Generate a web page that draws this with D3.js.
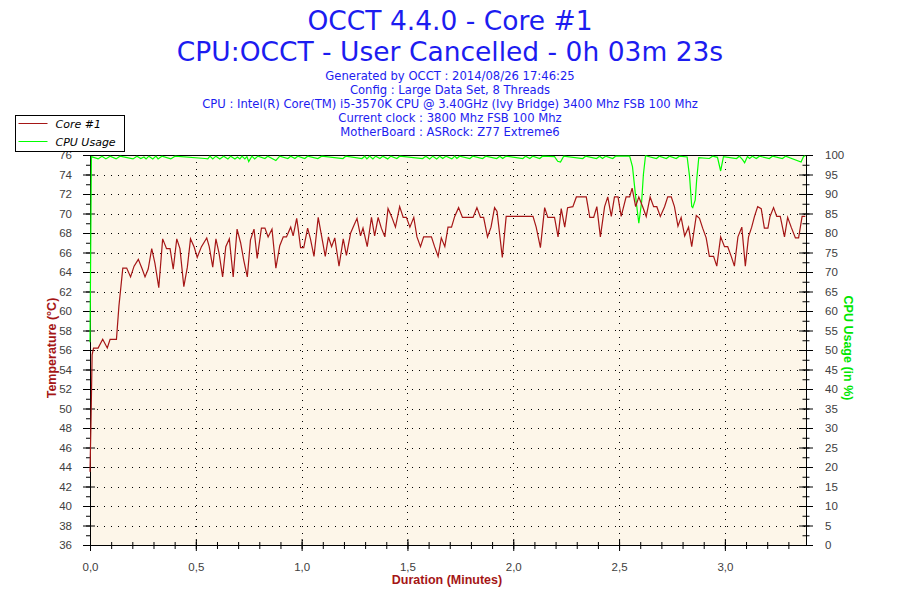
<!DOCTYPE html>
<html>
<head>
<meta charset="utf-8">
<script src="https://cdn.jsdelivr.net/npm/d3@7"></script>
<style>
  body { margin: 0; background: #fff; }
  .title { font-family: "DejaVu Sans", Verdana, sans-serif; fill: #1c1cf0; }
  .tick text { font-family: "Liberation Sans", Arial, sans-serif; font-size: 11.5px; fill: #404040; }
  .axis path, .axis line { stroke: #000; }
</style>
</head>
<body>
<div class="js-chart"></div>
<script>
// Core #1 temperature, time in seconds, value in degrees C
var tempSec = [0, 0.3, 0.6, 1.0, 2.3, 3.6, 4.9, 5.7, 7.5, 8.2, 9.3, 10.4, 11.5, 12.5, 13.7, 14.8, 15.6, 16.5,
  17.5, 18.4, 19.5, 20.6, 21.7, 22.7, 23.6, 24.6, 25.5, 26.6, 27.6, 28.5, 29.5, 30.4, 31.6, 33.1, 33.8, 34.8,
  35.7, 36.6, 37.6, 38.5, 39.5, 40.6, 41.7, 42.7, 43.6, 44.6, 45.5, 46.5, 47.4, 48.6, 49.6, 50.5, 51.6, 52.7,
  53.8, 54.8, 55.7, 56.9, 57.6, 58.6, 59.0, 59.7, 60.6, 61.7, 62.5, 63.5, 64.7, 65.6, 66.7, 67.6, 68.5, 69.4,
  70.6, 71.8, 72.7, 73.9, 74.6, 75.7, 76.7, 77.4, 78.6, 79.8, 80.7, 81.7, 82.6, 83.6, 84.5, 85.6, 86.6, 87.8,
  88.8, 89.7, 90.7, 91.8, 92.7, 93.7, 94.6, 96.8, 97.7, 98.7, 99.6, 100.6, 101.5, 102.5, 103.4, 104.5, 105.6,
  108.6, 109.7, 110.7, 111.6, 112.7, 113.7, 114.7, 115.4, 116.2, 116.9, 118.0, 125.6, 126.5, 127.7, 128.9,
  129.8, 131.7, 132.7, 133.6, 134.6, 135.4, 136.9, 137.9, 140.7, 141.7, 142.8, 143.7, 144.7, 145.9, 146.8,
  147.8, 148.7, 149.7, 150.6, 152.0, 153.0, 153.7, 154.7, 155.6, 156.7, 157.7, 158.8, 159.8, 160.7, 161.7,
  162.9, 163.8, 164.8, 165.7, 166.7, 167.6, 168.6, 169.7, 170.6, 171.9, 172.8, 173.7, 174.7, 175.6, 176.8,
  177.7, 178.8, 179.9, 180.8, 181.8, 182.7, 183.7, 184.8, 185.8, 186.7, 187.6, 188.4, 189.3, 190.3, 191.2,
  192.2, 192.8, 193.8, 194.7, 195.7, 196.9, 197.8, 198.8, 200.0, 200.9, 201.9, 202.8];
var tempVal = [43.5, 49, 55.5, 56.2, 56.2, 57.1, 56.2, 57.1, 57.1, 60.5, 64.4, 64.4, 63.5, 64.6, 65.3, 64.3, 63.5, 64.3,
  66.4, 64.9, 62.4, 67.4, 66.4, 66.4, 64.3, 67.4, 66.4, 62.5, 64.5, 67.4, 66.6, 65.5, 66.6, 67.5, 66.6, 64.5,
  67.4, 65.9, 63.5, 66.6, 67.4, 63.5, 68.4, 67, 65.2, 63.5, 67.3, 68.4, 65.4, 68.5, 68.5, 67.6, 68.4, 64.4,
  66.7, 67.6, 67.6, 68.6, 67.7, 69.5, 68.5, 66.5, 66.5, 68.5, 67.4, 65.6, 69.6, 67.8, 65.6, 67.6, 66.6, 67.5,
  64.6, 67.4, 65.7, 68, 68.6, 69.5, 67.7, 68.5, 66.6, 69.6, 67.7, 69.6, 68.5, 67.6, 70.5, 69.6, 68.6, 70.7,
  69.6, 69.6, 68.6, 69.6, 67.6, 66.6, 67.6, 67.6, 66.6, 65.6, 67.5, 66.6, 68.6, 68.6, 69.7, 70.6, 69.6,
  69.6, 70.6, 69.6, 69.6, 67.6, 68.6, 70.6, 70.2, 67.7, 65.5, 69.7, 69.7, 68.6, 66.5, 70.6,
  69.6, 69.6, 67.6, 70.5, 68.6, 70.6, 70.7, 71.7, 71.7, 69.6, 69.6, 70.7, 67.6, 70.7, 71.7,
  69.7, 71.7, 71.7, 69.7, 71.7, 71.7, 72.6, 70.7, 71.7, 70.7, 69.7, 71.7, 70.7, 70.7, 69.7,
  70.7, 71.7, 71.7, 70.7, 68.7, 69.6, 67.7, 68.6, 66.6, 69.8, 69.5, 68.5, 67.5, 65.6, 65.6,
  64.6, 67.6, 66.6, 66.6, 65.6, 64.6, 67.6, 68.6, 64.6, 67.6, 68.6, 69.7, 70.7, 70.5, 68.5,
  68.5, 69.7, 70.6, 69.7, 69.7, 67.6, 69.6, 68.6, 67.5, 67.5, 69.7, 69.7];

// CPU usage, time in seconds, value in percent
var cpuSec = [0, 0.4, 2.3, 3.4, 4.5, 5.7, 7.4, 8.5, 12.2, 13.3, 14.4, 15.3, 15.9, 16.7, 17.8, 18.7, 19.3, 20.4,
  22.9, 24.1, 32.6, 33.4, 34.0, 34.8, 35.7, 36.8, 37.9, 39.1, 39.9, 41.1, 41.8, 42.5, 43.1, 43.9, 44.5, 45.0,
  45.9, 46.7, 47.6, 49.6, 50.4, 52.7, 53.8, 56.1, 56.9, 58.1, 58.9, 60.9, 61.7, 64.6, 65.7, 71.7, 72.5, 77.1,
  77.9, 78.5, 79.3, 80.2, 81.0, 82.2, 83.0, 84.4, 85.3, 87.0, 87.8, 94.3, 95.2, 96.3, 97.2, 98.3, 99.2, 100.0,
  100.9, 102.6, 103.4, 104.0, 104.8, 107.7, 108.5, 111.3, 112.2, 115.3, 116.2, 117.0, 117.9, 122.7, 123.5,
  124.7, 125.5, 127.5, 128.3, 131.7, 132.6, 133.4, 134.3, 139.7, 140.5, 143.6, 144.5, 145.3, 146.2, 148.2,
  149.0, 153.0, 153.8, 154.8, 155.6, 156.4, 156.9, 157.5, 160.6, 161.4, 163.4, 164.3, 166.2, 167.1, 169.3,
  170.0, 170.6, 170.9, 171.6, 172.0, 172.6, 175.6, 176.5, 177.9, 178.8, 179.6, 183.3, 184.1, 185.0, 185.6,
  186.4, 187.0, 187.8, 188.9, 189.8, 192.6, 193.5, 196.3, 197.2, 201.6, 202.3, 202.8];
var cpuVal = [52, 99.6, 99.0, 99.7, 99.0, 99.7, 99.0, 99.7, 99.0, 99.7, 99.1, 99.5, 99.0, 99.7, 99.0, 99.7, 99.0, 99.7,
  99.0, 99.7, 99.1, 99.0, 99.7, 99.0, 99.7, 99.0, 99.7, 99.0, 99.7, 99.0, 99.5, 99.0, 99.7, 99.0, 99.6, 98.3,
  99.7, 99.0, 99.7, 99.1, 99.7, 98.6, 99.7, 99.1, 99.7, 99.1, 99.7, 99.1, 99.7, 99.1, 99.7, 99.1, 99.7, 99.1,
  99.7, 99.0, 99.7, 99.0, 99.7, 99.1, 99.7, 99.0, 99.7, 99.1, 99.7, 99.1, 99.7, 99.0, 99.7, 99.0, 99.7, 99.1,
  99.7, 99.0, 99.7, 99.1, 99.7, 99.1, 99.7, 99.1, 99.7, 99.1, 99.7, 99.1, 99.7, 99.1, 99.7,
  99.1, 99.7, 99.1, 99.7, 99.6, 98.4, 98.2, 99.7, 99.1, 99.7, 99.1, 99.7, 99.1, 99.7, 99.1,
  99.7, 99.7, 97, 88.5, 82.5, 88, 95, 99.8, 99.1, 99.7, 99.1, 99.7, 99.1, 99.7, 99.5,
  94.4, 86.8, 86.5, 88.5, 93.6, 99.3, 99.1, 99.7, 99.4, 95.9, 99.6, 99.1, 99.7, 98.8, 98.0,
  99.6, 99.1, 99.7, 99.1, 99.7, 99.1, 99.7, 99.1, 99.7, 98.2, 99.6, 99.8];

var tempTicks = [36, 38, 40, 42, 44, 46, 48, 50, 52, 54, 56, 58, 60, 62, 64, 66, 68, 70, 72, 74, 76];
var cpuTicks = [0, 5, 10, 15, 20, 25, 30, 35, 40, 45, 50, 55, 60, 65, 70, 75, 80, 85, 90, 95, 100];
var minuteTicks = [0, 0.5, 1.0, 1.5, 2.0, 2.5, 3.0];

var titleLines = ['OCCT 4.4.0 - Core #1', 'CPU:OCCT - User Cancelled - 0h 03m 23s'];
var infoLines = [
  'Generated by OCCT : 2014/08/26 17:46:25',
  'Config : Large Data Set, 8 Threads',
  'CPU : Intel(R) Core(TM) i5-3570K CPU @ 3.40GHz (Ivy Bridge) 3400 Mhz FSB 100 Mhz',
  'Current clock : 3800 Mhz FSB 100 Mhz',
  'MotherBoard : ASRock: Z77 Extreme6'
];
var seriesNames = ['Core #1', 'CPU Usage'];

;(function() {
  'use strict';

  var totalW = 900,
      totalH = 600;
  var margin = {top: 155, right: 94, bottom: 55, left: 90};
  var chartW = totalW - margin.left - margin.right,
      chartH = totalH - margin.top - margin.bottom;

  var tempColor = '#a51616',
      cpuColor = '#00ff00';

  var svg = d3.select('.js-chart').append('svg')
              .attr('width', totalW)
              .attr('height', totalH);

  // Titles
  svg.selectAll('.title-big')
      .data(titleLines)
    .enter().append('text')
      .classed('title title-big', true)
      .attr('x', 450)
      .attr('y', function(d, i) { return 30 + i * 31; })
      .attr('text-anchor', 'middle')
      .style('font-size', '26.5px')
      .text(function(d) { return d; });

  svg.selectAll('.title-small')
      .data(infoLines)
    .enter().append('text')
      .classed('title title-small', true)
      .attr('x', 450)
      .attr('y', function(d, i) { return 80 + i * 14; })
      .attr('text-anchor', 'middle')
      .style('font-size', '11.6px')
      .text(function(d) { return d; });

  var xScale = d3.scaleLinear().domain([0, 203]).range([0, chartW]);
  var xMin = d3.scaleLinear().domain([0, 203 / 60]).range([0, chartW]);
  var yTemp = d3.scaleLinear().domain([36, 76]).range([chartH, 0]);
  var yCpu = d3.scaleLinear().domain([0, 100]).range([chartH, 0]);

  var g = svg.append('g')
              .attr('transform', 'translate(' + margin.left + ',' + margin.top + ')');

  g.append('rect')
      .attr('width', chartW)
      .attr('height', chartH)
      .style('fill', '#fdf6e9');

  // Dotted grid
  g.selectAll('.grid-h')
      .data(tempTicks.filter(function(d) { return d > 36 && d < 76; }))
    .enter().append('line')
      .attr('x1', 0)
      .attr('x2', chartW)
      .attr('y1', function(d) { return Math.round(yTemp(d)) + 0.5; })
      .attr('y2', function(d) { return Math.round(yTemp(d)) + 0.5; })
      .style('stroke', '#000')
      .style('stroke-dasharray', '1,6');

  g.selectAll('.grid-v')
      .data(minuteTicks.filter(function(d) { return d > 0; }))
    .enter().append('line')
      .attr('x1', function(d) { return Math.round(xMin(d)) + 0.5; })
      .attr('x2', function(d) { return Math.round(xMin(d)) + 0.5; })
      .attr('y1', 0)
      .attr('y2', chartH)
      .style('stroke', '#000')
      .style('stroke-dasharray', '1,6');

  // Axes: minor ticks first, then the labelled major ones
  var minorTemp = d3.range(36, 77, 1);
  var minorCpu = d3.range(0, 101, 2.5);
  var minorMin = d3.range(0, 34).map(function(i) { return i / 10; });

  function crossTicks(axisG, a, b, attr) {
    axisG.selectAll('.tick line').attr(attr + '1', a).attr(attr + '2', b);
  }

  var leftMinor = g.append('g').classed('axis', true)
      .call(d3.axisLeft(yTemp).tickValues(minorTemp).tickFormat('').tickSizeOuter(0));
  crossTicks(leftMinor, -4, 0, 'x');
  var leftMajor = g.append('g').classed('axis', true)
      .call(d3.axisLeft(yTemp).tickValues(tempTicks).tickSizeOuter(0).tickPadding(12));
  crossTicks(leftMajor, -7, 5, 'x');

  var rightMinor = g.append('g').classed('axis', true)
      .attr('transform', 'translate(' + chartW + ',0)')
      .call(d3.axisRight(yCpu).tickValues(minorCpu).tickFormat('').tickSizeOuter(0));
  crossTicks(rightMinor, -3.5, 3.5, 'x');
  var rightMajor = g.append('g').classed('axis', true)
      .attr('transform', 'translate(' + chartW + ',0)')
      .call(d3.axisRight(yCpu).tickValues(cpuTicks).tickSizeOuter(0).tickPadding(13));
  crossTicks(rightMajor, -7, 7, 'x');

  var bottomMinor = g.append('g').classed('axis', true)
      .attr('transform', 'translate(0,' + chartH + ')')
      .call(d3.axisBottom(xMin).tickValues(minorMin).tickFormat('').tickSizeOuter(0));
  crossTicks(bottomMinor, -3, 4, 'y');
  var bottomMajor = g.append('g').classed('axis', true)
      .attr('transform', 'translate(0,' + chartH + ')')
      .call(d3.axisBottom(xMin).tickValues(minuteTicks).tickSizeOuter(0).tickPadding(12)
              .tickFormat(function(d) { return d3.format('.1f')(d).replace('.', ','); }));
  crossTicks(bottomMajor, -6, 6, 'y');

  // Top border
  g.append('line')
      .attr('x1', 0).attr('x2', chartW)
      .attr('y1', 0.5).attr('y2', 0.5)
      .style('stroke', '#000');

  // Series
  var cpuLine = d3.line()
      .x(function(d, i) { return xScale(cpuSec[i]); })
      .y(function(d) { return yCpu(d); });
  var tempLine = d3.line()
      .x(function(d, i) { return xScale(tempSec[i]); })
      .y(function(d) { return yTemp(d); });

  g.append('path')
      .datum(cpuVal)
      .attr('d', cpuLine)
      .style('fill', 'none')
      .style('stroke', cpuColor)
      .style('stroke-width', 1.2);

  g.append('path')
      .datum(tempVal)
      .attr('d', tempLine)
      .style('fill', 'none')
      .style('stroke', tempColor)
      .style('stroke-width', 1.2);

  // Axis titles
  var labelFont = '"Liberation Sans", Arial, sans-serif';
  svg.append('text')
      .attr('transform', 'translate(56,348) rotate(-90)')
      .attr('text-anchor', 'middle')
      .style('font-family', labelFont)
      .style('font-weight', 'bold')
      .style('font-size', '12.5px')
      .style('fill', tempColor)
      .text('Temperature (°C)');

  svg.append('text')
      .attr('transform', 'translate(844,348) rotate(90)')
      .attr('text-anchor', 'middle')
      .style('font-family', labelFont)
      .style('font-weight', 'bold')
      .style('font-size', '12.5px')
      .style('fill', '#00e600')
      .text('CPU Usage (in %)');

  svg.append('text')
      .attr('x', 447)
      .attr('y', 584)
      .attr('text-anchor', 'middle')
      .style('font-family', labelFont)
      .style('font-weight', 'bold')
      .style('font-size', '12.5px')
      .style('fill', tempColor)
      .text('Duration (Minutes)');

  // Legend
  var legend = svg.append('g').attr('transform', 'translate(15.5,115.5)');
  legend.append('rect')
      .attr('width', 109)
      .attr('height', 36)
      .style('fill', '#fff')
      .style('stroke', '#000');
  legend.selectAll('.leg-line')
      .data(seriesNames)
    .enter().append('line')
      .attr('x1', 3).attr('x2', 32)
      .attr('y1', function(d, i) { return 8 + i * 18; })
      .attr('y2', function(d, i) { return 8 + i * 18; })
      .style('stroke', function(d, i) { return i ? cpuColor : tempColor; });
  legend.selectAll('.leg-text')
      .data(seriesNames)
    .enter().append('text')
      .attr('x', 40)
      .attr('y', function(d, i) { return 12 + i * 18; })
      .style('font-family', '"DejaVu Sans", Verdana, sans-serif')
      .style('font-style', 'italic')
      .style('font-size', '11px')
      .style('fill', '#000')
      .text(function(d) { return d; });

}());
</script>
</body>
</html>
